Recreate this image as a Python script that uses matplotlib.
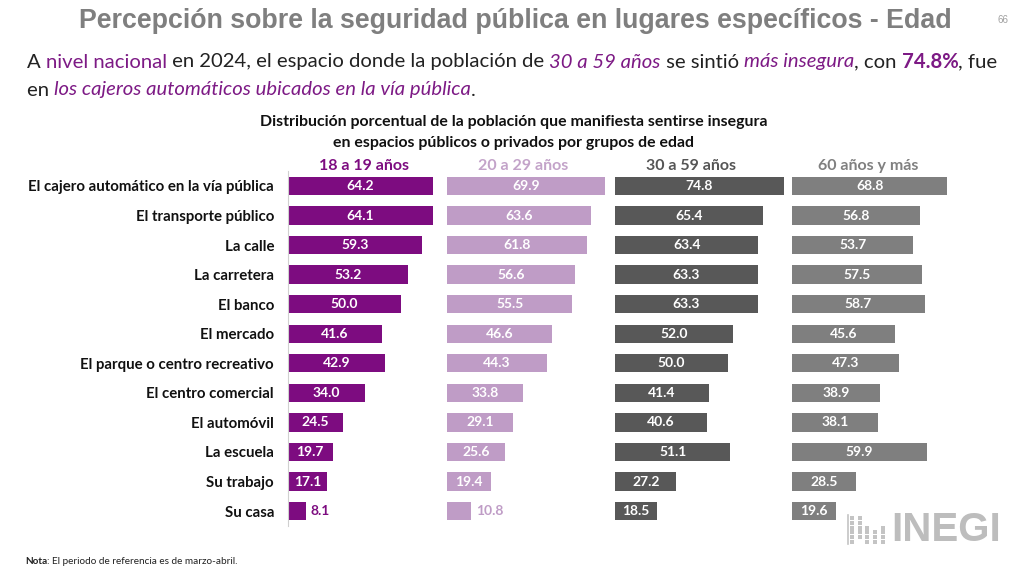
import matplotlib
matplotlib.use("Agg")
import matplotlib.pyplot as plt
from matplotlib import font_manager

# -----------------------------
# Data
# -----------------------------
categories = [
    "El cajero automático en la vía pública",
    "El transporte público",
    "La calle",
    "La carretera",
    "El banco",
    "El mercado",
    "El parque o centro recreativo",
    "El centro comercial",
    "El automóvil",
    "La escuela",
    "Su trabajo",
    "Su casa",
]

groups = ["18 a 19 años", "20 a 29 años", "30 a 59 años", "60 años y más"]

g18_19 = [64.2, 64.1, 59.3, 53.2, 50.0, 41.6, 42.9, 34.0, 24.5, 19.7, 17.1, 8.1]
g20_29 = [69.9, 63.6, 61.8, 56.6, 55.5, 46.6, 44.3, 33.8, 29.1, 25.6, 19.4, 10.8]
g30_59 = [74.8, 65.4, 63.4, 63.3, 63.3, 52.0, 50.0, 41.4, 40.6, 51.1, 27.2, 18.5]
g60_mas = [68.8, 56.8, 53.7, 57.5, 58.7, 45.6, 47.3, 38.9, 38.1, 59.9, 28.5, 19.6]

series = [g18_19, g20_29, g30_59, g60_mas]
colors = ["#7D0C80", "#BF9CC6", "#585858", "#7F7F7F"]
header_colors = ["#7D0C80", "#C3A3C9", "#555555", "#808080"]


def have(name):
    try:
        font_manager.findfont(font_manager.FontProperties(family=name),
                              fallback_to_default=False)
        return True
    except Exception:
        return False


body_font = "Lato" if have("Lato") else "DejaVu Sans"
title_font = "Liberation Sans Narrow" if have("Liberation Sans Narrow") else "Liberation Sans"

plt.rcParams["font.family"] = [body_font, "DejaVu Sans"]

W, H = 1012, 567
fig = plt.figure(figsize=(W / 100, H / 100), dpi=100)
fig.patch.set_facecolor("white")


def fx(px):
    return px / W


def fy(py):
    return 1 - py / H


# -----------------------------
# Title and text
# -----------------------------
fig.text(fx(515), fy(21), "Percepción sobre la seguridad pública en lugares específicos - Edad",
         ha="center", va="center", fontsize=19.3, fontweight="bold",
         color="#7F7F7F", family=[title_font, "DejaVu Sans"])
fig.text(fx(1003), fy(20), "66", ha="center", va="center", fontsize=7,
         color="#A0A0A0", family=[title_font, "DejaVu Sans"])

purple = "#7D1A85"
renderer = fig.canvas.get_renderer()


def runs(x0, y0, parts, size=14.6):
    x = x0
    for txt, col, style, weight in parts:
        t = fig.text(fx(x), fy(y0), txt, ha="left", va="center", fontsize=size,
                     color=col, style=style, fontweight=weight)
        bb = t.get_window_extent(renderer=renderer)
        x += bb.width


runs(27, 62, [
    ("A ", "#222222", "normal", "normal"),
    ("nivel nacional", purple, "normal", "normal"),
    (" en 2024, el espacio donde la población de ", "#222222", "normal", "normal"),
    ("30 a 59 años", purple, "italic", "normal"),
    (" se sintió ", "#222222", "normal", "normal"),
    ("más insegura", purple, "italic", "normal"),
    (", con ", "#222222", "normal", "normal"),
    ("74.8%", purple, "normal", "bold"),
    (", fue", "#222222", "normal", "normal"),
])
runs(27, 90, [
    ("en ", "#222222", "normal", "normal"),
    ("los cajeros automáticos ubicados en la vía pública", purple, "italic", "normal"),
    (".", "#222222", "normal", "normal"),
])

fig.text(fx(514), fy(122), "Distribución porcentual de la población que manifiesta sentirse insegura",
         ha="center", va="center", fontsize=11.4, fontweight="bold", color="#111111")
fig.text(fx(514), fy(143), "en espacios públicos o privados por grupos de edad",
         ha="center", va="center", fontsize=11.4, fontweight="bold", color="#111111")

# -----------------------------
# Bars
# -----------------------------
px_per_unit = 2.26
starts = [288, 447, 615, 792]
ax_w = 180
row_h = 29.55
top = 186 - row_h / 2
n = len(categories)
ax_h = n * row_h
ypos = list(range(n))

for k, (vals, col) in enumerate(zip(series, colors)):
    ax = fig.add_axes([fx(starts[k]), fy(top + ax_h), fx(ax_w), ax_h / H])
    ax.set_facecolor("none")
    ax.barh(ypos, vals, height=0.62, color=col)
    ax.set_xlim(0, ax_w / px_per_unit)
    ax.set_ylim(n - 0.5, -0.5)
    for s in ax.spines.values():
        s.set_visible(False)
    ax.set_xticks([])
    ax.set_yticks([])
    if k == 0:
        ax.spines["left"].set_visible(True)
        ax.spines["left"].set_color("#D0D0D0")
        ax.spines["left"].set_linewidth(0.8)
        ax.set_yticks(ypos)
        ax.set_yticklabels(categories, fontsize=10.8, fontweight="bold", color="#111111")
        ax.tick_params(axis="y", length=0, pad=10)
    for i, v in enumerate(vals):
        if v < 15:
            ax.text(v + 2, i, f"{v:.1f}", ha="left", va="center", fontsize=10,
                    fontweight="bold", color=col)
        else:
            ax.text(v / 2, i, f"{v:.1f}", ha="center", va="center", fontsize=10,
                    fontweight="bold", color="white")
    ax.text(33.6, -0.5 - 0.18, groups[k], ha="center", va="center", fontsize=11.5,
            fontweight="bold", color=header_colors[k], clip_on=False)

# -----------------------------
# Footer: INEGI logo and note
# -----------------------------
logo = fig.add_axes([fx(846), fy(547), fx(46), 34 / H])
logo.set_xlim(0, 6)
logo.set_ylim(0, 7)
logo.axis("off")
dot_cols = [0, 1, 2, 3, 4]
dot_rows = [[1, 2, 3, 4, 5, 6], [2, 3, 4, 5, 6], [1, 2, 3, 4], [1, 2, 3], [1, 2, 3, 4]]
for c, rows in zip(dot_cols, dot_rows):
    logo.scatter([c + 0.8] * len(rows), rows, s=5, marker="s", color="#C4C4C4", lw=0)
logo.plot([0.2, 0.2], [0.6, 6.6], color="#C4C4C4", lw=1.2)

fig.text(fx(946), fy(530), "INEGI", ha="center", va="center", fontsize=29,
         fontweight="heavy", color="#BDBDBD", family=[title_font, "DejaVu Sans"])
t = fig.text(fx(25), fy(561), "Nota", ha="left", va="center", fontsize=7.2,
             fontweight="bold", color="#222222")
bb = t.get_window_extent(renderer=renderer)
fig.text(fx(25) + bb.width / W, fy(561), ": El periodo de referencia es de marzo-abril.",
         ha="left", va="center", fontsize=7.2, color="#222222")

fig.savefig("out.png", dpi=100)
